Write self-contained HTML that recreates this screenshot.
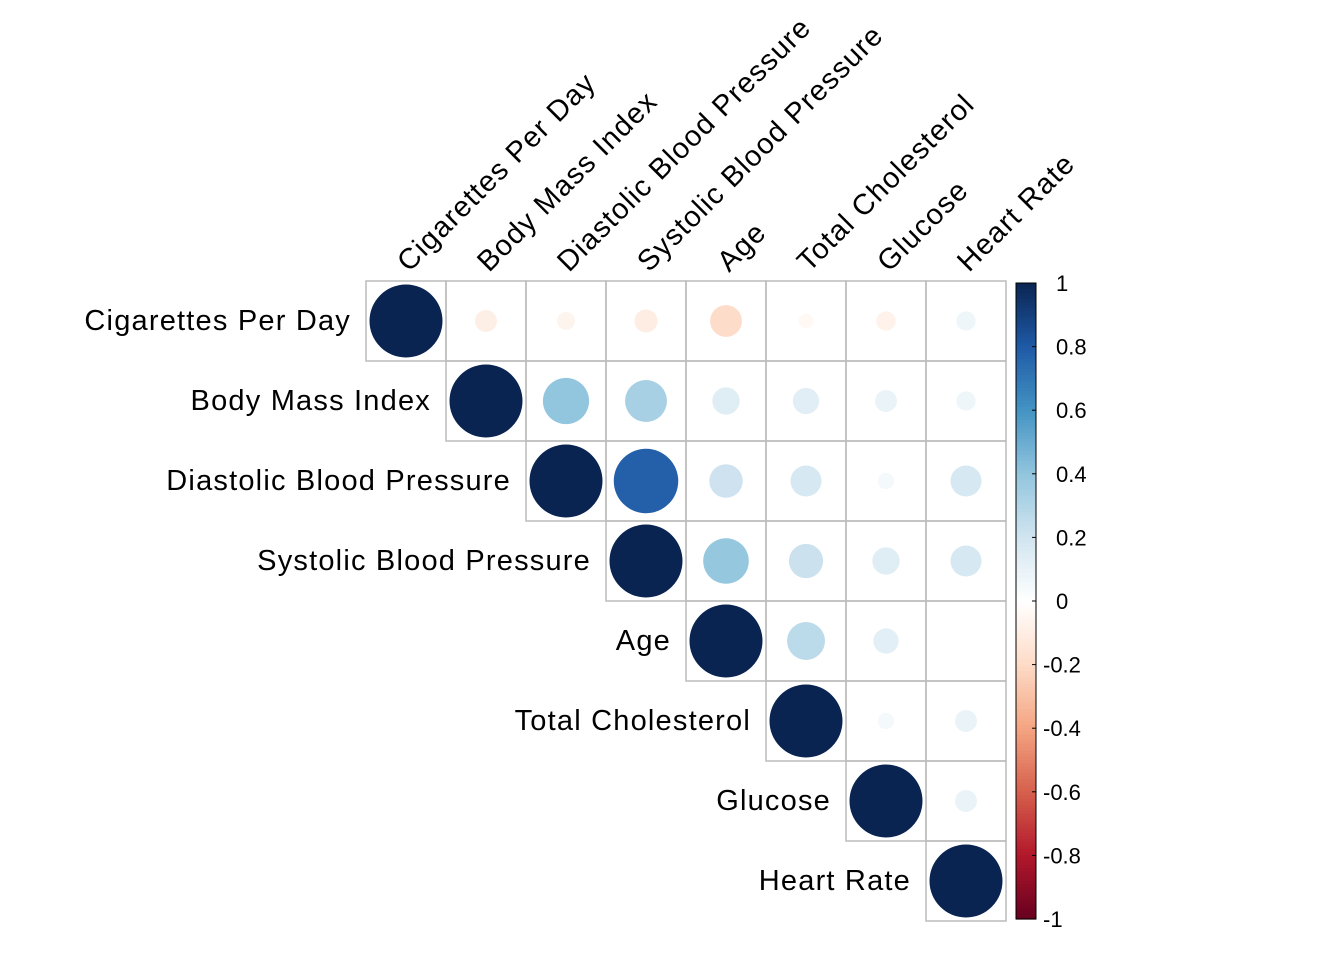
<!DOCTYPE html>
<html><head><meta charset="utf-8"><style>body{margin:0;background:#fff}svg{display:block}</style></head>
<body>
<svg id="c" width="1344" height="960" xmlns="http://www.w3.org/2000/svg" font-family="Liberation Sans, Arial, sans-serif"></svg>
<script>
const labels = ["Cigarettes Per Day","Body Mass Index","Diastolic Blood Pressure","Systolic Blood Pressure","Age","Total Cholesterol","Glucose","Heart Rate"];
const row0 = [1,-0.09,-0.06,-0.10,-0.19,-0.04,-0.07,0.07];
const row1 = [0,1,0.40,0.33,0.14,0.13,0.09,0.07];
const row2 = [0,0,1,0.78,0.21,0.18,0.05,0.18];
const row3 = [0,0,0,1,0.39,0.22,0.14,0.18];
const row4 = [0,0,0,0,1,0.27,0.12,0.00];
const row5 = [0,0,0,0,0,1,0.05,0.09];
const row6 = [0,0,0,0,0,0,1,0.09];
const row7 = [0,0,0,0,0,0,0,1];
const corr = [row0,row1,row2,row3,row4,row5,row6,row7];
const ticks = [1,0.8,0.6,0.4,0.2,0,-0.2,-0.4,-0.6,-0.8,-1];

const svg=document.getElementById('c');const NS='http://www.w3.org/2000/svg';
function mk(t,a,p){const e=document.createElementNS(NS,t);for(const k in a)e.setAttribute(k,a[k]);(p||svg).appendChild(e);return e;}
const x0=366,y0=281,cs=80,rmax=36.5;
const cx=j=>x0+cs*j+cs/2, cy=i=>y0+cs*i+cs/2;
const pal=["#67001F","#B2182B","#D6604D","#F4A582","#FDDBC7","#FFFFFF","#D1E5F0","#92C5DE","#4393C3","#1F5AA6","#0A2452"];
function col(v){const t=(v+1)/2*10;const i=Math.min(9,Math.floor(t));const f=t-i;
 const a=pal[i],b=pal[i+1];const h=(s,o)=>parseInt(s.substr(o,2),16);
 const c=[1,3,5].map(o=>Math.round(h(a,o)*(1-f)+h(b,o)*f));return `rgb(${c.join(',')})`;}
for(let i=0;i<8;i++){for(let j=i;j<8;j++){
 const r=mk('rect',{x:x0+cs*j,y:y0+cs*i,width:cs,height:cs,fill:'none',stroke:'#bbbbbb','stroke-width':1.5});
 
 
 const v=corr[i][j];
 const c=mk('circle',{cx:cx(j),cy:cy(i),r:Math.sqrt(Math.abs(v))*rmax,fill:col(v)});
 
 
}}
labels.forEach((l,i)=>{
 const t=mk('text',{x:x0+cs*i-15,y:cy(i)+9,'text-anchor':'end','font-size':29,'letter-spacing':1.2});t.textContent=l;
 
 
 const u=mk('text',{x:0,y:0,'font-size':29,'letter-spacing':1.2,transform:`translate(${cx(i)+3},${y0-8}) rotate(-45)`});u.textContent=l;
 
 
});
const ly0=283,ly1=919,lx=1016,lw=20;
for(let k=0;k<200;k++){const v=1-2*(k+0.5)/200;const h=(ly1-ly0)/200;
 const r=mk('rect',{x:lx,y:ly0+k*h,width:lw,height:h+0.6,fill:col(v)});
 
 }
const fr=mk('rect',{x:lx,y:ly0,width:lw,height:ly1-ly0,fill:'none',stroke:'#000','stroke-width':1});


ticks.forEach(v=>{const y=ly0+(1-v)/2*(ly1-ly0);
 mk('line',{x1:lx+lw-4,x2:lx+lw,y1:y,y2:y,stroke:'#000'});
 const t=mk('text',{x:v<0?1043:1056,y:y+8,'font-size':22});t.textContent=String(v);
 
 });
</script>
</body></html>
